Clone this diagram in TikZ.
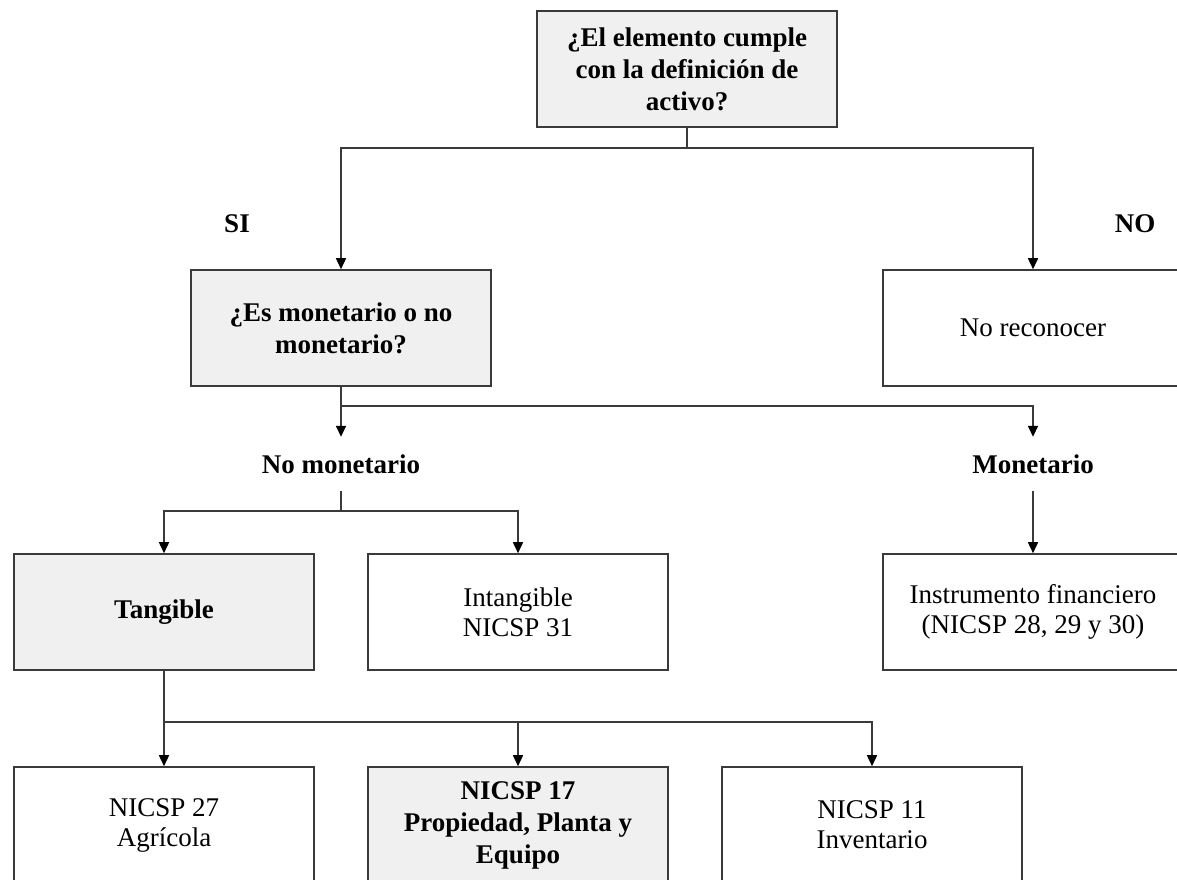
\documentclass[tikz,border=0pt]{standalone}
\usepackage{fontspec}
\setmainfont{Liberation Serif}
\usetikzlibrary{arrows.meta}
\definecolor{boxgray}{HTML}{F0F0F0}
\definecolor{edge}{HTML}{3A3A3A}
\tikzset{
  box/.style={draw=edge, line width=1.6pt, minimum width=300pt, minimum height=116pt,
    inner sep=0pt, align=center, font=\fontsize{27}{30}\selectfont},
  shaded/.style={box, fill=boxgray, font=\fontsize{27}{32}\selectfont\bfseries},
  plain/.style={box, fill=white},
  lbl/.style={font=\fontsize{27}{30}\selectfont\bfseries, inner sep=0pt, minimum height=54pt},
  conn/.style={draw=edge, line width=1.6pt},
  arr/.style={conn, -{Triangle[width=10pt,length=11pt,color=black]}},
}
\begin{document}
\begin{tikzpicture}[x=1pt, y=-1pt]
\path[use as bounding box, clip] (0,0) rectangle (1177,879);
\fill[white] (0,0) rectangle (1177,879);

% decision boxes and outcomes
\node[shaded] (top) at (687,69) {¿El elemento cumple\\con la definición de\\activo?};
\node[shaded] (tipo) at (341,328) {¿Es monetario o no\\monetario?};
\node[plain] (norec) at (1033,328) {No reconocer};

\node[lbl] (si) at (237,224) {SI};
\node[lbl] (no) at (1135,224) {NO};
\node[lbl] (nomon) at (341,464) {No monetario};
\node[lbl] (mon) at (1033,464) {Monetario};

\node[shaded] (tang) at (164,612) {Tangible};
\node[plain] (intang) at (518,612) {Intangible\\NICSP 31};
\node[plain] (instr) at (1033,612) {Instrumento financiero\\(NICSP 28, 29 y 30)};

\node[plain] (n27) at (164,825) {NICSP 27\\Agrícola};
\node[shaded] (n17) at (518,825) {NICSP 17\\Propiedad, Planta y\\Equipo};
\node[plain] (n11) at (872,825) {NICSP 11\\Inventario};

% connectors
\draw[conn] (top.south) -- ++(0,20) coordinate (j1);
\draw[arr] (j1) -| (tipo.north);
\draw[arr] (j1) -| (norec.north);

\draw[conn] (tipo.south) -- ++(0,19) coordinate (j2);
\draw[arr] (j2) -| (nomon.north);
\draw[arr] (j2) -| (mon.north);

\draw[conn] (nomon.south) -- ++(0,20) coordinate (j3);
\draw[arr] (j3) -| (tang.north);
\draw[arr] (j3) -| (intang.north);
\draw[arr] (mon.south) -- (instr.north);

\draw[conn] (tang.south) -- ++(0,51) coordinate (j4);
\draw[arr] (j4) -- (n27.north);
\draw[arr] (j4) -| (n17.north);
\draw[arr] (j4) -| (n11.north);
\end{tikzpicture}
\end{document}
